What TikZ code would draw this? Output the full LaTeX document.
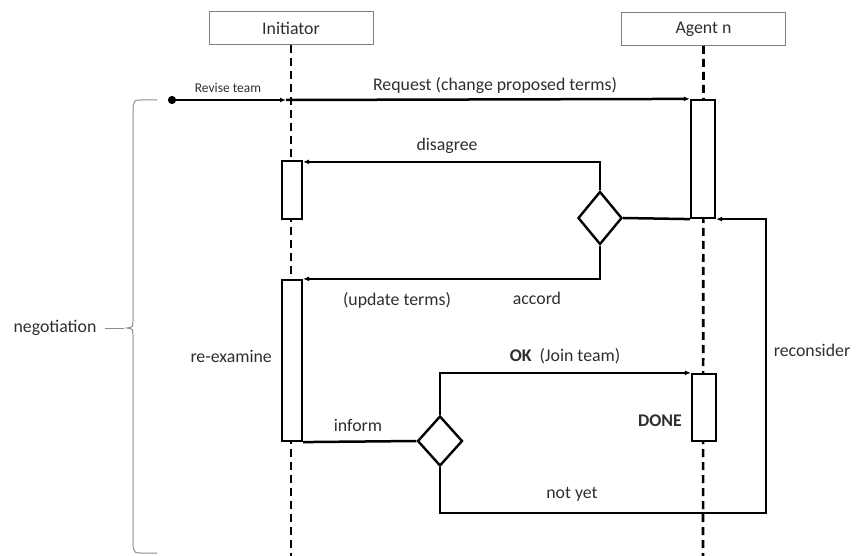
\documentclass[tikz,border=0pt]{standalone}
\usepackage{fontspec}
\setmainfont{Carlito}
\usetikzlibrary{shapes.geometric,arrows.meta,calc}
\begin{document}
\begin{tikzpicture}[x=1pt,y=-1pt,
  txt/.style={text=black!82,font=\fontsize{17.8}{20}\selectfont,inner sep=0pt},
  smalltxt/.style={text=black!82,font=\fontsize{13.5}{15}\selectfont,inner sep=0pt},
  header/.style={draw=black!50,line width=1pt,fill=white,minimum height=33pt,minimum width=164pt,inner sep=0pt},
  lifeline/.style={line width=2.6pt,dash pattern=on 8pt off 5pt},
  actbox/.style={draw=black,line width=2.2pt,fill=white,inner sep=0pt},
  decision/.style={draw=black,line width=2.4pt,fill=white,diamond,inner sep=0pt},
  msg/.style={line width=2.5pt,-{Latex[length=6pt,width=5pt]}},
  link/.style={line width=2.5pt},
  bracket/.style={draw=black!45,line width=1pt}]
\useasboundingbox (0,0) rectangle (857,556);

% participants and lifelines
\node[header] (ini) at (291,28.5) {};
\node[txt] at (ini) {Initiator};
\node[header] (ag) at (703.5,29) {};
\node[txt] at (ag) {Agent n};
\coordinate (iniend) at (291,556);
\coordinate (agend) at (703,556);
\draw[lifeline] (ini.south) -- (iniend);
\draw[lifeline] (ag.south) -- (agend);

% activation bars
\node[actbox,minimum width=24pt,minimum height=118pt] (a1) at (703,159) {};
\node[actbox,minimum width=20pt,minimum height=58pt] (i1) at (292,190) {};
\node[actbox,minimum width=20pt,minimum height=161pt] (i2) at (292,360.5) {};
\node[actbox,minimum width=24pt,minimum height=67pt] (a2) at (704,407.5) {};

% decisions
\node[decision,minimum width=44pt,minimum height=53pt] (d1) at (600,218) {};
\node[decision,minimum width=45pt,minimum height=50pt] (d2) at (440,441) {};

% messages
\coordinate (rs) at (168,100);
\coordinate (re) at (286,100);
\draw[line width=2.5pt,{Circle[length=8pt]}-{Latex[length=6pt,width=5pt]}] (rs) -- (re);
\draw[msg] (re) -- (a1.north west);
\draw[link] (d1.east) -- (a1.south west);
\draw[msg] (d1.north) |- ([yshift=-2pt]i1.north east);
\draw[msg] (d1.south) |- (i2.north east);
\draw[link] (i2.south east) -- (d2.west);
\draw[msg] (d2.north) |- (a2.north west);
\coordinate (nyc) at (766,513);
\draw[msg] (d2.south) |- (nyc) |- (a1.south east);

% labels
\node[smalltxt] at (228,88) {Revise team};
\node[txt] at (495,86) {Request (change proposed terms)};
\node[txt] at (447,146) {disagree};
\node[txt] at (397,300) {(update terms)};
\node[txt] at (537,298) {accord};
\node[txt,anchor=east] at (272,356) {re-examine};
\node[txt] at (358,425) {inform};
\node[txt] at (565,356) {\textbf{OK}\ \ (Join team)};
\node[txt] at (660,421) {\textbf{DONE}};
\node[txt] at (572,494) {not yet};
\node[txt] at (812,350) {reconsider};

% negotiation bracket
\node[txt] (neg) at (55,328) {negotiation};
\draw[bracket] (157,100) -- (141,100) .. controls (135,100) .. (133,106)
  -- (133,321) .. controls (133,327) .. (127,328)
  .. controls (133,329) .. (133,335) -- (133,547)
  .. controls (135,553) .. (141,553) -- (157,553);
\draw[bracket] (105,328) -- (124,328);
\end{tikzpicture}
\end{document}
